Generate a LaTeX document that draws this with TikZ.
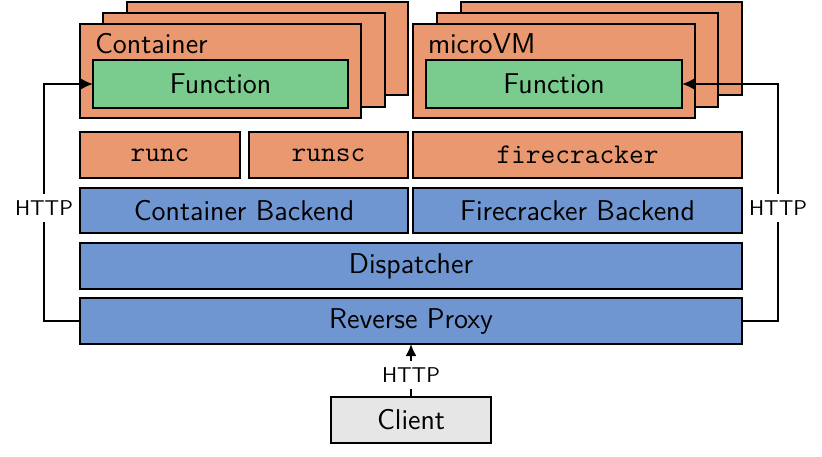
\documentclass[tikz,border=0pt]{standalone}
\usetikzlibrary{arrows.meta}
\definecolor{corange}{RGB}{233,152,112}
\definecolor{cblue}{RGB}{112,150,209}
\definecolor{cgreen}{RGB}{122,203,142}
\definecolor{cgray}{RGB}{230,230,230}
\begin{document}
\begin{tikzpicture}[x=0.5pt,y=-0.5pt,line width=1pt,
  font=\sffamily\fontsize{14.3}{16}\selectfont,
  bx/.style={draw=black,inner sep=0pt,outer sep=0pt},
  orangebox/.style={bx,fill=corange},
  bluebox/.style={bx,fill=cblue},
  greenbox/.style={bx,fill=cgreen},
  graybox/.style={bx,fill=cgray},
  ttlabel/.style={font=\ttfamily\fontsize{14.3}{16}\selectfont},
  lbl/.style={fill=white,inner xsep=1pt,inner ysep=3.5pt,font=\sffamily\fontsize{10.7}{12}\selectfont},
  conn/.style={draw=black,line width=1pt},
  arr/.style={conn,-{Latex[length=6pt,width=5.5pt]}}]
\useasboundingbox (0,0) rectangle (822,456);
% container stack
\node[orangebox,minimum width=140.5pt,minimum height=46.5pt] (c3) at (267.5,48.5) {};
\node[orangebox,minimum width=141pt,minimum height=47pt] (c2) at (244,60) {};
\node[orangebox,minimum width=140.5pt,minimum height=47pt] (c1) at (220.5,71) {};
\node[anchor=base west,inner sep=0pt] (ctext) at (94,53) {Container};
\node[greenbox,minimum width=127.5pt,minimum height=24pt] (f1) at (220.5,84) {Function};
% microVM stack
\node[orangebox,minimum width=140.5pt,minimum height=46.5pt] (m3) at (601.5,48.5) {};
\node[orangebox,minimum width=140.5pt,minimum height=47pt] (m2) at (577.5,60) {};
\node[orangebox,minimum width=141pt,minimum height=47pt] (m1) at (554,71) {};
\node[anchor=base west,inner sep=0pt] (mtext) at (427,53) {microVM};
\node[greenbox,minimum width=128pt,minimum height=24pt] (f2) at (554,84) {Function};
% runtimes
\node[orangebox,ttlabel,minimum width=80pt,minimum height=23pt] (runc) at (160,155) {runc};
\node[orangebox,ttlabel,minimum width=79.5pt,minimum height=23pt] (runsc) at (328.5,155) {runsc};
\node[orangebox,ttlabel,minimum width=164.5pt,minimum height=23pt] (fc) at (577.5,155) {firecracker};
% backends
\node[bluebox,minimum width=164pt,minimum height=22.5pt] (cb) at (244,210.5) {Container Backend};
\node[bluebox,minimum width=164.5pt,minimum height=22.5pt] (fb) at (577.5,210.5) {Firecracker Backend};
\node[bluebox,minimum width=331pt,minimum height=23pt] (disp) at (411,266) {Dispatcher};
\node[bluebox,minimum width=331pt,minimum height=23pt] (rp) at (411,321) {Reverse Proxy};
\node[graybox,minimum width=80pt,minimum height=23pt] (client) at (411,420) {Client};
% connectors
\coordinate (lc) at (44,321);
\coordinate (rc) at (778,321);
\draw[arr] (rp.west) -- (lc) |- (f1.west);
\draw[arr] (rp.east) -- (rc) |- (f2.east);
\draw[arr] (client.north) -- (rp.south);
\node[lbl] (hl) at (44,208) {HTTP};
\node[lbl] (hr) at (778,208) {HTTP};
\node[lbl] (hb) at (411,375) {HTTP};
\end{tikzpicture}
\end{document}
